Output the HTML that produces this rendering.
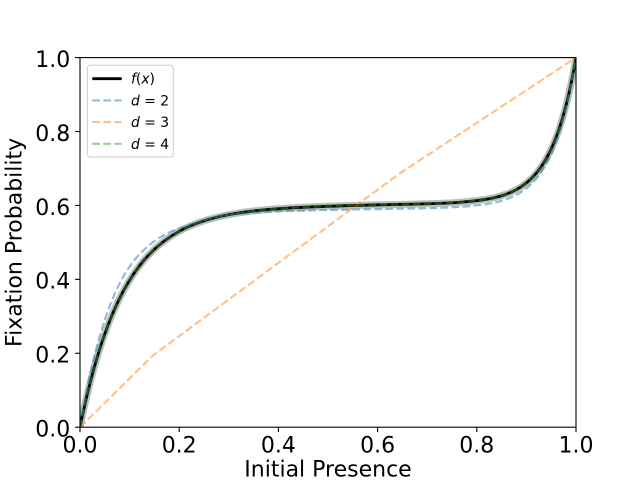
<!DOCTYPE html>
<html>
<head>
<meta charset="utf-8">
<style>
html,body{margin:0;padding:0;background:#fff;}
svg{display:block;}
text{font-family:"DejaVu Sans","Liberation Sans",sans-serif;fill:#000;}
</style>
</head>
<body>
<svg width="640" height="480" viewBox="0 0 640 480" xmlns="http://www.w3.org/2000/svg">
<rect x="0" y="0" width="640" height="480" fill="#fff"/>
<defs>
<clipPath id="ax"><rect x="80" y="57.6" width="496" height="369.6"/></clipPath>
</defs>
<g clip-path="url(#ax)" fill="none" stroke-linejoin="round">
  <!-- gray band -->
  <path d="M80,427.2 C84.96,402.89 89.92,382.57 94.88,365.14 C101.49,341.89 108.11,323.72 114.72,308.78 C122.99,290.10 131.25,276.49 139.52,265.72 C152.75,248.49 165.97,238.51 179.2,231.31 C195.73,222.31 212.27,217.81 228.8,214.68 C253.6,209.99 278.4,208.48 303.2,207.29 C336.27,205.71 369.33,205.12 402.4,204.33 C427.2,203.74 452.0,203.63 476.8,200.60 C490.03,198.99 503.25,196.72 516.48,189.55 C524.75,185.07 533.01,178.68 541.28,166.71 C546.24,159.53 551.2,150.32 556.16,137.29 C559.47,128.60 562.77,118.21 566.08,105.28 C569.39,92.35 572.69,76.87 576,57.6" stroke="#000" stroke-opacity="0.26" stroke-width="7"/>
  <!-- f(x) -->
  <path d="M80,427.2 C84.96,402.89 89.92,382.57 94.88,365.14 C101.49,341.89 108.11,323.72 114.72,308.78 C122.99,290.10 131.25,276.49 139.52,265.72 C152.75,248.49 165.97,238.51 179.2,231.31 C195.73,222.31 212.27,217.81 228.8,214.68 C253.6,209.99 278.4,208.48 303.2,207.29 C336.27,205.71 369.33,205.12 402.4,204.33 C427.2,203.74 452.0,203.63 476.8,200.60 C490.03,198.99 503.25,196.72 516.48,189.55 C524.75,185.07 533.01,178.68 541.28,166.71 C546.24,159.53 551.2,150.32 556.16,137.29 C559.47,128.60 562.77,118.21 566.08,105.28 C569.39,92.35 572.69,76.87 576,57.6" stroke="#000" stroke-width="2.8"/>
  <!-- d=2 -->
  <path d="M80,427.2 C84.96,397.45 89.92,373.80 94.88,354.17 C101.49,327.99 108.11,308.96 114.72,293.89 C122.99,275.06 131.25,262.85 139.52,254.23 C152.75,240.43 165.97,232.80 179.2,228.36 C195.73,222.82 212.27,216.46 228.8,214.68 C253.6,212.01 278.4,211.31 303.2,210.65 C336.27,209.78 369.33,209.35 402.4,208.69 C427.2,208.20 452.0,208.14 476.8,205.37 C490.03,203.89 503.25,201.84 516.48,194.87 C524.75,190.51 533.01,184.26 541.28,172.14 C546.24,164.87 551.2,155.44 556.16,141.91 C559.47,132.89 562.77,122.03 566.08,108.38 C569.39,94.73 572.69,78.29 576,57.6" stroke="#1f77b4" stroke-opacity="0.5" stroke-width="2.08" stroke-dasharray="7.7 3.33"/>
  <!-- d=3 -->
  <path d="M80,427.2 L153.4,355.1 L399.9,173.3 L576,57.6" stroke="#ff7f0e" stroke-opacity="0.5" stroke-width="2.08" stroke-dasharray="7.7 3.33"/>
  <!-- d=4 -->
  <path d="M80,427.2 C84.96,402.89 89.92,382.57 94.88,365.14 C101.49,341.89 108.11,323.72 114.72,308.78 C122.99,290.10 131.25,276.49 139.52,265.72 C152.75,248.49 165.97,238.51 179.2,231.31 C195.73,222.31 212.27,217.81 228.8,214.68 C253.6,209.99 278.4,208.48 303.2,207.29 C336.27,205.71 369.33,205.12 402.4,204.33 C427.2,203.74 452.0,203.63 476.8,200.60 C490.03,198.99 503.25,196.72 516.48,189.55 C524.75,185.07 533.01,178.68 541.28,166.71 C546.24,159.53 551.2,150.32 556.16,137.29 C559.47,128.60 562.77,118.21 566.08,105.28 C569.39,92.35 572.69,76.87 576,57.6" stroke="#2ca02c" stroke-opacity="0.5" stroke-width="2.08" stroke-dasharray="7.7 3.33"/>
</g>
<!-- spines -->
<rect x="80" y="57.6" width="496" height="369.6" fill="none" stroke="#000" stroke-width="1.1"/>
<!-- ticks -->
<g stroke="#000" stroke-width="1.1">
  <line x1="80" y1="427.2" x2="80" y2="432.1"/>
  <line x1="179.2" y1="427.2" x2="179.2" y2="432.1"/>
  <line x1="278.4" y1="427.2" x2="278.4" y2="432.1"/>
  <line x1="377.6" y1="427.2" x2="377.6" y2="432.1"/>
  <line x1="476.8" y1="427.2" x2="476.8" y2="432.1"/>
  <line x1="576" y1="427.2" x2="576" y2="432.1"/>
  <line x1="75.1" y1="427.2" x2="80" y2="427.2"/>
  <line x1="75.1" y1="353.28" x2="80" y2="353.28"/>
  <line x1="75.1" y1="279.36" x2="80" y2="279.36"/>
  <line x1="75.1" y1="205.44" x2="80" y2="205.44"/>
  <line x1="75.1" y1="131.52" x2="80" y2="131.52"/>
  <line x1="75.1" y1="57.6" x2="80" y2="57.6"/>
</g>
<g font-size="22" text-anchor="middle">
  <text x="80" y="452.5">0.0</text>
  <text x="179.2" y="452.5">0.2</text>
  <text x="278.4" y="452.5">0.4</text>
  <text x="377.6" y="452.5">0.6</text>
  <text x="476.8" y="452.5">0.8</text>
  <text x="576" y="452.5">1.0</text>
</g>
<g font-size="22" text-anchor="end">
  <text x="70.3" y="436.5">0.0</text>
  <text x="70.3" y="362.6">0.2</text>
  <text x="70.3" y="288.7">0.4</text>
  <text x="70.3" y="214.8">0.6</text>
  <text x="70.3" y="140.8">0.8</text>
  <text x="70.3" y="66.9">1.0</text>
</g>
<text x="328" y="476.5" font-size="22" text-anchor="middle">Initial Presence</text>
<text transform="translate(21.5,242.4) rotate(-90)" font-size="22" text-anchor="middle">Fixation Probability</text>
<!-- legend -->
<rect x="87.3" y="65.3" width="86" height="91.7" rx="3" ry="3" fill="#fff" fill-opacity="0.8" stroke="#cccccc" stroke-width="1"/>
<g fill="none">
  <line x1="92.3" y1="78.7" x2="121.7" y2="78.7" stroke="#000" stroke-width="2.8"/>
  <line x1="92.3" y1="100.4" x2="121.7" y2="100.4" stroke="#1f77b4" stroke-opacity="0.5" stroke-width="2.08" stroke-dasharray="7.7 3.33"/>
  <line x1="92.3" y1="122.1" x2="121.7" y2="122.1" stroke="#ff7f0e" stroke-opacity="0.5" stroke-width="2.08" stroke-dasharray="7.7 3.33"/>
  <line x1="92.3" y1="143.8" x2="121.7" y2="143.8" stroke="#2ca02c" stroke-opacity="0.5" stroke-width="2.08" stroke-dasharray="7.7 3.33"/>
</g>
<g font-size="13.9">
  <text x="131" y="83.7"><tspan font-style="italic">f</tspan>(<tspan font-style="italic">x</tspan>)</text>
  <text x="131" y="105.4"><tspan font-style="italic">d</tspan> = 2</text>
  <text x="131" y="127.1"><tspan font-style="italic">d</tspan> = 3</text>
  <text x="131" y="148.8"><tspan font-style="italic">d</tspan> = 4</text>
</g>
</svg>
</body>
</html>
